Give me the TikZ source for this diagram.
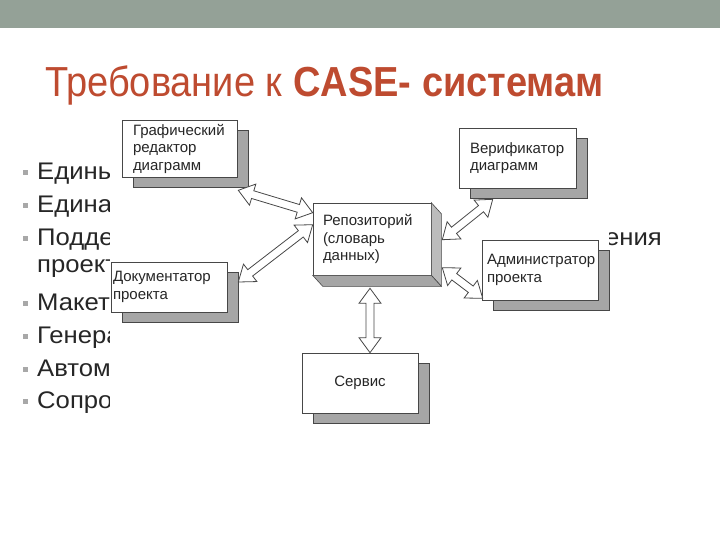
\documentclass[tikz,border=0pt]{standalone}
\usepackage{fontspec}
\setmainfont{Liberation Sans}
\usepackage{graphicx}
\usepackage{tikz}
\usetikzlibrary{calc,shadows}
\definecolor{CBar}{HTML}{94A197}
\definecolor{CTitle}{HTML}{BE4B30}
\definecolor{CEdge}{HTML}{474747}
\definecolor{CShade}{HTML}{A6A6A6}
\definecolor{CBullet}{HTML}{A8A8A8}

% hollow double-headed block arrow between two named points
\newcommand{\hollowarrow}[2]{%
  \coordinate (ha-c) at ($(#1)!15pt!(#2)$);
  \coordinate (ha-d) at ($(#2)!15pt!(#1)$);
  \draw[holarr] (#1)
    -- ($(ha-c)!11pt!90:(#2)$) -- ($(ha-c)!4pt!90:(#2)$)
    -- ($(ha-d)!4pt!-90:(#1)$) -- ($(ha-d)!11pt!-90:(#1)$)
    -- (#2)
    -- ($(ha-d)!11pt!90:(#1)$) -- ($(ha-d)!4pt!90:(#1)$)
    -- ($(ha-c)!4pt!-90:(#2)$) -- ($(ha-c)!11pt!-90:(#2)$)
    -- cycle;
}
\newcommand{\wide}[1]{\scalebox{1.07}[1]{#1}}

\begin{document}
\begin{tikzpicture}[
  x=1pt,y=-1pt,
  every node/.style={inner sep=0pt},
  item/.style={anchor=base west,font=\fontsize{24}{28}\selectfont,text=black!85},
  bulletmark/.style={fill=CBullet,minimum size=5pt},
  box/.style={draw=CEdge,fill=white,line width=0.6pt,align=left,text=black!85,
    font=\fontsize{15}{17.5}\selectfont},
  block/.style={box,drop shadow={shadow xshift=11pt,shadow yshift=-10pt,
    opacity=1,fill=CShade,draw=CEdge}},
  holarr/.style={draw=CEdge,fill=white,line width=0.8pt,line join=miter}
]
  \useasboundingbox (0,0) rectangle (720,540);
  \fill[CBar] (0,0) rectangle (720,28);

  \node[anchor=base west,text=CTitle,font=\fontsize{42}{50}\selectfont] (title)
    at (45,97) {\scalebox{0.905}[1]{Требование к \textbf{CASE- системам}}};

  % bullet list, partly hidden behind the diagram
  \foreach \txt/\yy [count=\i] in {Единь/180,Едина/213,Подде/245,Макет/310,
      Генера/343,Автом/376,Сопро/408} {
    \node[bulletmark] (m\i) at (25,\yy-7) {};
    \node[item] (t\i) at (37,\yy) {\wide{\txt}};
  }
  \node[item] (tcont) at (37,272) {\wide{проект}};
  \node[item,anchor=base east] (ttail) at (662,245) {\wide{ения}};

  \fill[white] (110,114) rectangle (609,425);

  % diagram
  \node[block,text width=93pt,inner xsep=11pt,minimum height=57pt] (graf)
    at (179.5,148.5) {Графический\\редактор\\диаграмм};
  \node[block,text width=95pt,inner xsep=11pt,minimum height=60pt] (verif)
    at (517.5,158) {Верификатор\\диаграмм};
  \node[block,text width=106pt,inner xsep=5pt,minimum height=60pt] (admin)
    at (540,270) {Администратор\\проекта};
  \node[block,text width=112pt,inner xsep=2pt,minimum height=50pt] (doc)
    at (169,287) {Документатор\\проекта};
  \node[block,align=center,minimum width=116pt,minimum height=60pt] (serv)
    at (360,383) {Сервис};

  \node[box,text width=98pt,inner xsep=10pt,minimum height=72pt] (repo)
    at (372,239) {Репозиторий\\(словарь\\данных)};
  \filldraw[fill=CShade!75!white,draw=CEdge,line width=0.6pt]
    (repo.north east) -- ++(10,11) -- ([shift={(10,11)}]repo.south east)
    -- (repo.south east) -- cycle;
  \filldraw[fill=CShade,draw=CEdge,line width=0.6pt]
    (repo.south west) -- (repo.south east) -- ([shift={(10,11)}]repo.south east)
    -- ([shift={(10,11)}]repo.south west) -- cycle;

  \coordinate (a1) at ([shift={(1,13)}]graf.south east);
  \coordinate (a2) at ([shift={(0,10)}]repo.north west);
  \coordinate (b1) at ([shift={(11,-5)}]doc.east);
  \coordinate (b2) at ([shift={(0,22)}]repo.north west);
  \coordinate (c1) at ([shift={(34,11)}]verif.south west);
  \coordinate (c2) at ([shift={(11,37)}]repo.north east);
  \coordinate (d1) at ([shift={(11,65)}]repo.north east);
  \coordinate (d2) at ([shift={(1,-2)}]admin.south west);
  \coordinate (e1) at ([shift={(-2,13)}]repo.south);
  \coordinate (e2) at (e1 |- serv.north);

  \hollowarrow{a1}{a2}
  \hollowarrow{b1}{b2}
  \hollowarrow{c1}{c2}
  \hollowarrow{d1}{d2}
  \hollowarrow{e1}{e2}
\end{tikzpicture}
\end{document}
